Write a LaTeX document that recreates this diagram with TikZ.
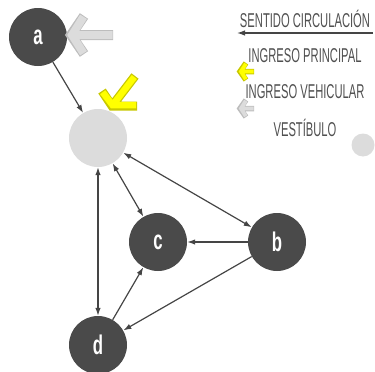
\documentclass[tikz,border=0pt]{standalone}
\usepackage{fontspec}
\setmainfont{Liberation Sans}
\newfontfamily\condfont[FakeStretch=0.56]{Liberation Sans}
\newfontfamily\letfont[FakeStretch=0.62]{Liberation Sans}
\usetikzlibrary{arrows.meta}
\definecolor{nodegray}{HTML}{4A4A4A}
\definecolor{vestgray}{HTML}{DCDCDC}
\definecolor{linegray}{HTML}{454545}
\definecolor{txtgray}{HTML}{505050}
\definecolor{arrgray}{HTML}{DCDCDC}
\definecolor{arrgrayo}{HTML}{BDBDBD}
\definecolor{yel}{HTML}{FFFF00}
\definecolor{yelo}{HTML}{C8C800}
\tikzset{
  room/.style={circle, fill=nodegray, minimum size=58pt, inner sep=0pt,
    text=white, font=\letfont\bfseries\fontsize{27}{27}\selectfont},
  vest/.style={circle, fill=vestgray, minimum size=58pt, inner sep=0pt},
  flow/.style={draw=linegray, line width=1.2pt, -{Latex[length=8pt,width=5.5pt]}},
  flow2/.style={draw=linegray, line width=1.2pt, {Latex[length=8pt,width=5.5pt]}-{Latex[length=8pt,width=5.5pt]}},
  legtxt/.style={text=txtgray, font=\condfont\fontsize{20}{20}\selectfont, inner sep=0pt},
}
\begin{document}
\begin{tikzpicture}[x=1pt,y=-1pt]
\useasboundingbox (0,0) rectangle (375,372);
% nodes
\node[room] (a) at (38,37) {a};
\node[vest] (v) at (98,138) {};
\node[room] (c) at (158,242) {c};
\node[room] (b) at (277,242) {b};
\node[room] (d) at (98,345) {d};
% gray entrance arrow near a
\draw[arrgrayo, line width=10pt, line join=miter, line cap=butt] (84,16) -- (71,35) -- (84,54) (71,35) -- (113,35);
\draw[arrgray, line width=8pt, line join=miter, line cap=butt] (83.5,16.8) -- (72,35) -- (83.5,53.2) (72,35) -- (112.5,35);
% yellow entrance arrow
\draw[yelo, line width=9pt, line join=miter, line cap=butt] (102,91) -- (112,106) -- (137,106) (112,106) -- (135,76);
\draw[yel, line width=6.5pt, line join=miter, line cap=butt] (102.7,92.2) -- (112.6,105.2) -- (136,105.2) (112.6,105.2) -- (134.3,77);
% connectors
\draw[flow] (a) -- (v);
\draw[flow2] (v) -- (d);
\draw[flow2] (v) -- (c);
\draw[flow2] (v) -- (b);
\draw[flow] (b) -- (c);
\draw[flow] (b) -- (d);
\draw[flow] (d) -- (c);
% legend
\node[legtxt] (l1) at (305,19) {SENTIDO CIRCULACIÓN};
\coordinate (l1a) at (373,33);
\coordinate (l1b) at (237,33);
\draw[flow] (l1a) -- (l1b);
\node[legtxt] (l2) at (305,56) {INGRESO PRINCIPAL};
\draw[yelo, line width=5.5pt, line join=miter] (246,63) -- (240,71.5) -- (246,80) (240,71.5) -- (254,71.5);
\draw[yel, line width=3.8pt, line join=miter] (245.8,63.8) -- (241,71.5) -- (245.8,79.2) (241,71.5) -- (253.5,71.5);
\node[legtxt] (l3) at (305,92) {INGRESO VEHICULAR};
\draw[arrgrayo, line width=5.5pt, line join=miter] (246,100) -- (240,108.5) -- (246,117) (240,108.5) -- (254,108.5);
\draw[arrgray, line width=3.8pt, line join=miter] (245.8,100.8) -- (241,108.5) -- (245.8,116.2) (241,108.5) -- (253.5,108.5);
\node[legtxt] (l4) at (305,128) {VESTÍBULO};
\node[circle, fill=vestgray, minimum size=23pt, inner sep=0pt] (l5) at (363,145) {};
\end{tikzpicture}
\end{document}
